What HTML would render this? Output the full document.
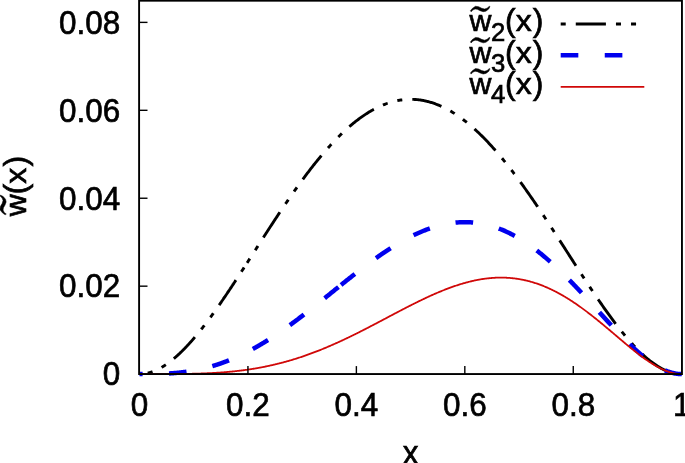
<!DOCTYPE html>
<html><head><meta charset="utf-8"><style>
html,body{margin:0;padding:0;background:#fff;}
body{width:685px;height:463px;overflow:hidden;position:relative;}
svg{position:absolute;left:0;top:0;will-change:transform;}
text{font-family:"Liberation Sans",sans-serif;fill:#000;stroke:#000;stroke-width:0.7;}
</style></head><body>
<svg width="685" height="463" viewBox="0 0 685 463">
<path d="M139.50,374.10 L139.68,374.10 L139.85,374.10 L140.03,374.10 L140.21,374.09 L140.39,374.09 L140.56,374.08 L140.74,374.08 L140.92,374.07 L141.10,374.06 L141.27,374.05 L141.45,374.04 L141.63,374.03 L141.80,374.02 L141.98,374.01 L142.16,374.00 L142.34,373.98 L142.51,373.97 L142.69,373.95 L142.87,373.93 L143.05,373.91 L143.22,373.90 L143.40,373.88 L143.58,373.86 L143.75,373.83 L143.93,373.81 L144.11,373.79 L144.29,373.76 L144.46,373.74 L144.64,373.71 L144.82,373.69 L145.00,373.66 L145.17,373.63 L145.35,373.60 L145.53,373.57 L145.70,373.54 L145.88,373.51 L146.06,373.47 L146.24,373.44 L146.41,373.40 L146.59,373.37 L146.77,373.33 L146.95,373.29 L147.12,373.26 L147.30,373.22 L147.48,373.18 L147.65,373.14 L147.83,373.09 L148.01,373.05 L148.19,373.01 L148.36,372.96 L148.54,372.92 L148.72,372.87 L148.90,372.83 L149.07,372.78 L149.25,372.73 L149.43,372.68 L149.60,372.63 L149.78,372.58 L149.96,372.53 L150.14,372.47 L150.31,372.42 L150.49,372.37 L150.67,372.31 L150.85,372.25 L151.02,372.20 L151.20,372.14 L151.38,372.08 L151.55,372.02 L151.73,371.96 L151.91,371.90 L152.09,371.84 L152.26,371.78 L152.44,371.71 L152.62,371.65 L152.80,371.58 L152.97,371.52 L153.15,371.45 L153.33,371.38 L153.50,371.32 L153.68,371.25 L153.86,371.18 L154.04,371.11 L154.21,371.04 L154.39,370.96 L154.57,370.89 L154.75,370.82 L154.92,370.74 L155.10,370.67 L155.28,370.59 L155.46,370.51 L155.63,370.44 L155.81,370.36 L155.99,370.28 L156.16,370.20 L156.34,370.12 L156.52,370.04 L156.70,369.95 L156.87,369.87 L157.05,369.79 L157.23,369.70 L157.41,369.62 L157.58,369.53 L157.76,369.44 L157.94,369.36 L158.11,369.27 L158.29,369.18 L158.47,369.09 L158.65,369.00 L158.82,368.91 L159.00,368.81 L159.18,368.72 L159.36,368.63 L159.53,368.53 L159.71,368.44 L159.89,368.34 L160.06,368.25 L160.24,368.15 L160.42,368.05 L160.60,367.95 L160.77,367.85 L160.95,367.75 L161.13,367.65 L161.31,367.55 L161.48,367.45 L161.66,367.34 L161.84,367.24 L162.01,367.14 L162.19,367.03 L162.37,366.92 L162.55,366.82 L162.72,366.71 L162.90,366.60 L163.08,366.49 L163.26,366.38 L163.43,366.27 L163.61,366.16 L163.79,366.05 L163.96,365.94 L164.14,365.83 L164.32,365.71 L164.50,365.60 L164.67,365.48 L164.85,365.37 L165.03,365.25 L165.21,365.13 L165.38,365.02 L165.56,364.90 L165.74,364.78 L165.91,364.66 L166.09,364.54 L166.27,364.42 L166.45,364.29 L166.62,364.17 L166.80,364.05 L166.98,363.92 L167.16,363.80 L167.33,363.67 L167.51,363.55 L167.69,363.42 L167.86,363.29 L168.04,363.17 L168.22,363.04 L168.40,362.91 L168.57,362.78 L168.75,362.65 L168.93,362.52 L169.11,362.38 L169.28,362.25 L169.46,362.12 L169.64,361.99 L169.81,361.85 L169.99,361.72 L170.17,361.58 L170.35,361.44 L170.52,361.31 L170.70,361.17 L170.88,361.03 L171.06,360.89 L171.23,360.75 L171.41,360.61 L171.59,360.47 L171.76,360.33 L171.94,360.19 L172.12,360.04 L172.30,359.90 L172.47,359.76 L172.65,359.61 L172.83,359.47 L173.01,359.32 L173.18,359.18 L173.36,359.03 L173.54,358.88 L173.71,358.73 L173.89,358.58 L174.07,358.43 L174.25,358.28 L174.42,358.13 L174.60,357.98 L174.78,357.83 L174.96,357.68 L175.13,357.53 L175.31,357.37 L175.49,357.22 L175.66,357.06 L175.84,356.91 L176.02,356.75 L176.20,356.59 L176.37,356.44 L176.55,356.28 L176.73,356.12 L176.91,355.96 L177.08,355.80 L177.26,355.64 L177.44,355.48 L177.61,355.32 L177.79,355.16 L177.97,355.00 L178.15,354.83 L178.32,354.67 L178.50,354.51 L178.68,354.34 L178.86,354.18 L179.03,354.01 L179.21,353.85 L179.39,353.68 L179.56,353.51 L179.74,353.34 L179.92,353.17 L180.10,353.01 L180.27,352.84 L180.45,352.67 L180.63,352.50 L180.81,352.32 L180.98,352.15 L181.16,351.98 L181.34,351.81 L181.51,351.63 L181.69,351.46 L181.87,351.29 L182.05,351.11 L182.22,350.93 L182.40,350.76 L182.58,350.58 L182.76,350.40 L182.93,350.23 L183.11,350.05 L183.29,349.87 L183.46,349.69 L183.64,349.51 L183.82,349.33 L184.00,349.15 L184.17,348.97 L184.35,348.79 L184.53,348.60 L184.71,348.42 L184.88,348.24 L185.06,348.05 L185.24,347.87 L185.41,347.69 L185.59,347.50 L185.77,347.31 L185.95,347.13 L186.12,346.94 L186.30,346.75 L186.48,346.57 L186.66,346.38 L186.83,346.19 L187.01,346.00 L187.19,345.81 L187.37,345.62 L187.54,345.43 L187.72,345.24 L187.90,345.05 L188.07,344.85 L188.25,344.66 L188.43,344.47 L188.61,344.27 L188.78,344.08 L188.96,343.89 L189.14,343.69 L189.32,343.49 L189.49,343.30 L189.67,343.10 L189.85,342.90 L190.02,342.71 L190.20,342.51 L190.38,342.31 L190.56,342.11 L190.73,341.91 L190.91,341.71 L191.09,341.51 L191.27,341.31 L191.44,341.11 L191.62,340.91 L191.80,340.71 L191.97,340.51 L192.15,340.30 L192.33,340.10 L192.51,339.90 L192.68,339.69 L192.86,339.49 L193.04,339.28 L193.22,339.08 L193.39,338.87 L193.57,338.66 L193.75,338.46 L193.92,338.25 L194.10,338.04 L194.28,337.83 L194.46,337.63 L194.63,337.42 L194.81,337.21 L194.99,337.00 L195.17,336.79 L195.34,336.58 L195.52,336.36 L195.70,336.15 L195.87,335.94 L196.05,335.73 L196.23,335.52 L196.41,335.30 L196.58,335.09 L196.76,334.88 L196.94,334.66 L197.12,334.45 L197.29,334.23 L197.47,334.02 L197.65,333.80 L197.82,333.58 L198.00,333.37 L198.18,333.15 L198.36,332.93 L198.53,332.71 L198.71,332.49 L198.89,332.28 L199.07,332.06 L199.24,331.84 L199.42,331.62 L199.60,331.40 L199.77,331.18 L199.95,330.96 L200.13,330.73 L200.31,330.51 L200.48,330.29 L200.66,330.07 L200.84,329.84 L201.02,329.62 L201.19,329.40 L201.37,329.17 L201.55,328.95 L201.72,328.72 L201.90,328.50 L202.08,328.27 L202.26,328.05 L202.43,327.82 L202.61,327.59 L202.79,327.37 L202.97,327.14 L203.14,326.91 L203.32,326.68 L203.50,326.46 L203.67,326.23 L203.85,326.00 L204.03,325.77 L204.21,325.54 L204.38,325.31 L204.56,325.08 L204.74,324.85 L204.92,324.61 L205.09,324.38 L205.27,324.15 L205.45,323.92 L205.62,323.69 L205.80,323.45 L205.98,323.22 L206.16,322.99 L206.33,322.75 L206.51,322.52 L206.69,322.28 L206.87,322.05 L207.04,321.81 L207.22,321.58 L207.40,321.34 L207.57,321.11 L207.75,320.87 L207.93,320.63 L208.11,320.40 L208.28,320.16 L208.46,319.92 L208.64,319.68 L208.82,319.44 L208.99,319.20 L209.17,318.97 L209.35,318.73 L209.52,318.49 L209.70,318.25 L209.88,318.01 L210.06,317.77 L210.23,317.52 L210.41,317.28 L210.59,317.04 L210.77,316.80 L210.94,316.56 L211.12,316.32 L211.30,316.07 L211.47,315.83 L211.65,315.59 L211.83,315.34 L212.01,315.10 L212.18,314.86 L212.36,314.61 L212.54,314.37 L212.72,314.12 L212.89,313.88 L213.07,313.63 L213.25,313.38 L213.42,313.14 L213.60,312.89 L213.78,312.65 L213.96,312.40 L214.13,312.15 L214.31,311.90 L214.49,311.66 L214.67,311.41 L214.84,311.16 L215.02,310.91 L215.20,310.66 L215.37,310.41 L215.55,310.16 L215.73,309.92 L215.91,309.67 L216.08,309.42 L216.26,309.16 L216.44,308.91 L216.62,308.66 L216.79,308.41 L216.97,308.16 L217.15,307.91 L217.33,307.66 L217.50,307.41 L217.68,307.15 L217.86,306.90 L218.03,306.65 L218.21,306.39 L218.39,306.14 L218.57,305.89 L218.74,305.63 L218.92,305.38 L219.10,305.13 L219.28,304.87 L219.45,304.62 L219.63,304.36 L219.81,304.11 L219.98,303.85 L220.16,303.60 L220.34,303.34 L220.52,303.08 L220.69,302.83 L220.87,302.57 L221.05,302.31 L221.23,302.06 L221.40,301.80 L221.58,301.54 L221.76,301.28 L221.93,301.03 L222.11,300.77 L222.29,300.51 L222.47,300.25 L222.64,299.99 L222.82,299.73 L223.00,299.48 L223.18,299.22 L223.35,298.96 L223.53,298.70 L223.71,298.44 L223.88,298.18 L224.06,297.92 L224.24,297.66 L224.42,297.40 L224.59,297.13 L224.77,296.87 L224.95,296.61 L225.13,296.35 L225.30,296.09 L225.48,295.83 L225.66,295.57 L225.83,295.30 L226.01,295.04 L226.19,294.78 L226.37,294.52 L226.54,294.25 L226.72,293.99 L226.90,293.73 L227.08,293.46 L227.25,293.20 L227.43,292.93 L227.61,292.67 L227.78,292.41 L227.96,292.14 L228.14,291.88 L228.32,291.61 L228.49,291.35 L228.67,291.08 L228.85,290.82 L229.03,290.55 L229.20,290.29 L229.38,290.02 L229.56,289.76 L229.73,289.49 L229.91,289.22 L230.09,288.96 L230.27,288.69 L230.44,288.42 L230.62,288.16 L230.80,287.89 L230.98,287.62 L231.15,287.36 L231.33,287.09 L231.51,286.82 L231.68,286.55 L231.86,286.29 L232.04,286.02 L232.22,285.75 L232.39,285.48 L232.57,285.21 L232.75,284.94 L232.93,284.68 L233.10,284.41 L233.28,284.14 L233.46,283.87 L233.63,283.60 L233.81,283.33 L233.99,283.06 L234.17,282.79 L234.34,282.52 L234.52,282.25 L234.70,281.98 L234.88,281.71 L235.05,281.44 L235.23,281.17 L235.41,280.90 L235.58,280.63 L235.76,280.36 L235.94,280.09 L236.12,279.82 L236.29,279.55 L236.47,279.28 L236.65,279.00 L236.83,278.73 L237.00,278.46 L237.18,278.19 L237.36,277.92 L237.53,277.65 L237.71,277.37 L237.89,277.10 L238.07,276.83 L238.24,276.56 L238.42,276.29 L238.60,276.01 L238.78,275.74 L238.95,275.47 L239.13,275.20 L239.31,274.92 L239.48,274.65 L239.66,274.38 L239.84,274.10 L240.02,273.83 L240.19,273.56 L240.37,273.28 L240.55,273.01 L240.73,272.74 L240.90,272.46 L241.08,272.19 L241.26,271.92 L241.43,271.64 L241.61,271.37 L241.79,271.09 L241.97,270.82 L242.14,270.55 L242.32,270.27 L242.50,270.00 L242.68,269.72 L242.85,269.45 L243.03,269.17 L243.21,268.90 L243.38,268.63 L243.56,268.35 L243.74,268.08 L243.92,267.80 L244.09,267.53 L244.27,267.25 L244.45,266.98 L244.63,266.70 L244.80,266.43 L244.98,266.15 L245.16,265.88 L245.33,265.60 L245.51,265.33 L245.69,265.05" fill="none" stroke="#000" stroke-width="2.9" stroke-dasharray="5.024 10.047 5.024 10.047 30.141 10.047" stroke-dashoffset="62.03"/>
<path d="M245.69,265.05 L246.42,263.92 L247.15,262.79 L247.87,261.65 L248.60,260.52 L249.33,259.39 L250.06,258.25 L250.78,257.12 L251.51,255.98 L252.24,254.85 L252.97,253.71 L253.70,252.57 L254.42,251.44 L255.15,250.30 L255.88,249.17 L256.61,248.03 L257.34,246.90 L258.06,245.76 L258.79,244.63 L259.52,243.49 L260.25,242.36 L260.98,241.23 L261.70,240.09 L262.43,238.96 L263.16,237.83 L263.89,236.70 L264.61,235.57 L265.34,234.44 L266.07,233.32 L266.80,232.19 L267.53,231.07 L268.25,229.95 L268.98,228.82 L269.71,227.70 L270.44,226.58 L271.17,225.47 L271.89,224.35 L272.62,223.24 L273.35,222.13 L274.08,221.02 L274.81,219.91 L275.53,218.80 L276.26,217.70 L276.99,216.59 L277.72,215.49 L278.44,214.40 L279.17,213.30 L279.90,212.21 L280.63,211.12 L281.36,210.03 L282.08,208.94 L282.81,207.86 L283.54,206.78 L284.27,205.70 L285.00,204.63 L285.72,203.55 L286.45,202.48 L287.18,201.42 L287.91,200.35 L288.64,199.29 L289.36,198.24 L290.09,197.18 L290.82,196.13 L291.55,195.08 L292.27,194.04 L293.00,193.00 L293.73,191.96 L294.46,190.93 L295.19,189.90 L295.91,188.87 L296.64,187.85 L297.37,186.83 L298.10,185.81 L298.83,184.80 L299.55,183.79 L300.28,182.79 L301.01,181.79 L301.74,180.79 L302.47,179.80 L303.19,178.81 L303.92,177.83 L304.65,176.85 L305.38,175.87 L306.10,174.90 L306.83,173.94 L307.56,172.97 L308.29,172.02 L309.02,171.06 L309.74,170.12 L310.47,169.17 L311.20,168.23 L311.93,167.30 L312.66,166.37 L313.38,165.44 L314.11,164.53 L314.84,163.61 L315.57,162.70 L316.30,161.80 L317.02,160.90 L317.75,160.00 L318.48,159.11 L319.21,158.23 L319.94,157.35 L320.66,156.47 L321.39,155.61 L322.12,154.74 L322.85,153.88 L323.57,153.03 L324.30,152.18 L325.03,151.34 L325.76,150.51 L326.49,149.68 L327.21,148.85 L327.94,148.03 L328.67,147.22 L329.40,146.41 L330.13,145.61 L330.85,144.81 L331.58,144.02 L332.31,143.24 L333.04,142.46 L333.77,141.69 L334.49,140.92 L335.22,140.16 L335.95,139.41 L336.68,138.66 L337.40,137.92 L338.13,137.18 L338.86,136.45 L339.59,135.73 L340.32,135.02 L341.04,134.30 L341.77,133.60 L342.50,132.90 L343.23,132.21 L343.96,131.53 L344.68,130.85 L345.41,130.18 L346.14,129.51 L346.87,128.85 L347.60,128.20 L348.32,127.55 L349.05,126.92 L349.78,126.28 L350.51,125.66 L351.23,125.04 L351.96,124.43 L352.69,123.82 L353.42,123.22 L354.15,122.63 L354.87,122.05 L355.60,121.47 L356.33,120.90 L357.06,120.34 L357.79,119.78 L358.51,119.23 L359.24,118.69 L359.97,118.15 L360.70,117.62 L361.43,117.10 L362.15,116.59 L362.88,116.08 L363.61,115.58 L364.34,115.09 L365.06,114.60 L365.79,114.13 L366.52,113.66 L367.25,113.19 L367.98,112.74 L368.70,112.29 L369.43,111.85 L370.16,111.41 L370.89,110.98 L371.62,110.57 L372.34,110.15 L373.07,109.75 L373.80,109.35 L374.53,108.96 L375.26,108.58 L375.98,108.21 L376.71,107.84 L377.44,107.48 L378.17,107.13 L378.89,106.78 L379.62,106.45 L380.35,106.12 L381.08,105.80 L381.81,105.48 L382.53,105.18 L383.26,104.88 L383.99,104.59 L384.72,104.30 L385.45,104.03 L386.17,103.76 L386.90,103.50 L387.63,103.25 L388.36,103.01 L389.09,102.77 L389.81,102.54 L390.54,102.32 L391.27,102.11 L392.00,101.90 L392.72,101.70 L393.45,101.51 L394.18,101.33 L394.91,101.16 L395.64,100.99 L396.36,100.83 L397.09,100.68 L397.82,100.54 L398.55,100.40 L399.28,100.28 L400.00,100.16 L400.73,100.05 L401.46,99.94 L402.19,99.85 L402.92,99.76 L403.64,99.68 L404.37,99.61 L405.10,99.54 L405.83,99.49 L406.55,99.44 L407.28,99.40 L408.01,99.37 L408.74,99.34 L409.47,99.33 L410.19,99.32 L410.92,99.32 L411.65,99.33 L412.38,99.34 L413.11,99.37 L413.83,99.40 L414.56,99.44 L415.29,99.48 L416.02,99.54 L416.75,99.60 L417.47,99.67 L418.20,99.75 L418.93,99.84 L419.66,99.93 L420.38,100.03 L421.11,100.14 L421.84,100.26 L422.57,100.39 L423.30,100.52 L424.02,100.66 L424.75,100.81 L425.48,100.97 L426.21,101.14 L426.94,101.31 L427.66,101.49 L428.39,101.68 L429.12,101.88 L429.85,102.08 L430.58,102.29 L431.30,102.51 L432.03,102.74 L432.76,102.98 L433.49,103.22 L434.21,103.47 L434.94,103.73 L435.67,104.00 L436.40,104.27 L437.13,104.56 L437.85,104.85 L438.58,105.14 L439.31,105.45 L440.04,105.76 L440.77,106.08 L441.49,106.41 L442.22,106.74 L442.95,107.09 L443.68,107.44 L444.41,107.80 L445.13,108.16 L445.86,108.54 L446.59,108.92 L447.32,109.31 L448.04,109.70 L448.77,110.11 L449.50,110.52 L450.23,110.94 L450.96,111.36 L451.68,111.80 L452.41,112.24 L453.14,112.68 L453.87,113.14 L454.60,113.60 L455.32,114.07 L456.05,114.55 L456.78,115.03 L457.51,115.53 L458.24,116.02 L458.96,116.53 L459.69,117.04 L460.42,117.56 L461.15,118.09 L461.88,118.63 L462.60,119.17 L463.33,119.72 L464.06,120.27 L464.79,120.84 L465.51,121.41 L466.24,121.98 L466.97,122.57 L467.70,123.16 L468.43,123.75 L469.15,124.36 L469.88,124.97 L470.61,125.59 L471.34,126.21 L472.07,126.84 L472.79,127.48 L473.52,128.13 L474.25,128.78 L474.98,129.43 L475.71,130.10 L476.43,130.77 L477.16,131.45 L477.89,132.13 L478.62,132.82 L479.34,133.52 L480.07,134.22 L480.80,134.93 L481.53,135.65 L482.26,136.37 L482.98,137.10 L483.71,137.84 L484.44,138.58 L485.17,139.32 L485.90,140.08 L486.62,140.84 L487.35,141.60 L488.08,142.37 L488.81,143.15 L489.54,143.93 L490.26,144.72 L490.99,145.52 L491.72,146.32 L492.45,147.13 L493.17,147.94 L493.90,148.76 L494.63,149.58 L495.36,150.41 L496.09,151.25 L496.81,152.09 L497.54,152.93 L498.27,153.79 L499.00,154.64 L499.73,155.51 L500.45,156.37 L501.18,157.25 L501.91,158.13 L502.64,159.01 L503.37,159.90 L504.09,160.79 L504.82,161.69 L505.55,162.60 L506.28,163.51 L507.00,164.42 L507.73,165.34 L508.46,166.26 L509.19,167.19 L509.92,168.13 L510.64,169.06 L511.37,170.01 L512.10,170.95 L512.83,171.91 L513.56,172.86 L514.28,173.83 L515.01,174.79 L515.74,175.76 L516.47,176.74 L517.20,177.71 L517.92,178.70 L518.65,179.69 L519.38,180.68 L520.11,181.67 L520.83,182.67 L521.56,183.68 L522.29,184.68 L523.02,185.69 L523.75,186.71 L524.47,187.73 L525.20,188.75 L525.93,189.78 L526.66,190.81 L527.39,191.84 L528.11,192.88 L528.84,193.92 L529.57,194.96 L530.30,196.01 L531.03,197.06 L531.75,198.11 L532.48,199.17 L533.21,200.23 L533.94,201.29 L534.66,202.36 L535.39,203.43 L536.12,204.50 L536.85,205.58 L537.58,206.65 L538.30,207.74 L539.03,208.82 L539.76,209.90 L540.49,210.99 L541.22,212.08 L541.94,213.18 L542.67,214.27 L543.40,215.37 L544.13,216.47 L544.86,217.57 L545.58,218.67 L546.31,219.78 L547.04,220.89 L547.77,222.00 L548.49,223.11 L549.22,224.22 L549.95,225.34 L550.68,226.46 L551.41,227.57 L552.13,228.69 L552.86,229.82 L553.59,230.94 L554.32,232.06 L555.05,233.19 L555.77,234.32 L556.50,235.44 L557.23,236.57 L557.96,237.70 L558.69,238.83 L559.41,239.96 L560.14,241.10 L560.87,242.23 L561.60,243.36 L562.32,244.50 L563.05,245.63 L563.78,246.77 L564.51,247.90 L565.24,249.04 L565.96,250.17 L566.69,251.31 L567.42,252.44 L568.15,253.58 L568.88,254.72 L569.60,255.85 L570.33,256.99 L571.06,258.12 L571.79,259.26 L572.52,260.39 L573.24,261.52 L573.97,262.66 L574.70,263.79 L575.43,264.92 L576.15,266.05 L576.88,267.18 L577.61,268.31 L578.34,269.44 L579.07,270.56 L579.79,271.69 L580.52,272.81 L581.25,273.93 L581.98,275.05 L582.71,276.17 L583.43,277.29 L584.16,278.41 L584.89,279.52 L585.62,280.63 L586.35,281.74 L587.07,282.85 L587.80,283.96 L588.53,285.06 L589.26,286.16 L589.98,287.26 L590.71,288.36 L591.44,289.45 L592.17,290.54 L592.90,291.63 L593.62,292.72 L594.35,293.80 L595.08,294.88 L595.81,295.96 L596.54,297.03 L597.26,298.10 L597.99,299.17 L598.72,300.23 L599.45,301.29 L600.18,302.35 L600.90,303.40 L601.63,304.45 L602.36,305.49 L603.09,306.54 L603.81,307.57 L604.54,308.61 L605.27,309.63 L606.00,310.66 L606.73,311.68 L607.45,312.69 L608.18,313.70 L608.91,314.71 L609.64,315.71 L610.37,316.71 L611.09,317.70 L611.82,318.68 L612.55,319.67 L613.28,320.64 L614.01,321.61 L614.73,322.58 L615.46,323.54 L616.19,324.49 L616.92,325.44 L617.65,326.38 L618.37,327.32 L619.10,328.25 L619.83,329.17 L620.56,330.09 L621.28,331.00 L622.01,331.91 L622.74,332.80 L623.47,333.70 L624.20,334.58 L624.92,335.46 L625.65,336.33 L626.38,337.20 L627.11,338.05 L627.84,338.90 L628.56,339.75 L629.29,340.58 L630.02,341.41 L630.75,342.23 L631.48,343.04 L632.20,343.84 L632.93,344.64 L633.66,345.43 L634.39,346.21 L635.11,346.98 L635.84,347.75 L636.57,348.50 L637.30,349.25 L638.03,349.98 L638.75,350.71 L639.48,351.43 L640.21,352.15 L640.94,352.85 L641.67,353.54 L642.39,354.22 L643.12,354.90 L643.85,355.56 L644.58,356.22 L645.31,356.86 L646.03,357.50 L646.76,358.12 L647.49,358.74 L648.22,359.34 L648.94,359.93 L649.67,360.52 L650.40,361.09 L651.13,361.65 L651.86,362.21 L652.58,362.75 L653.31,363.28 L654.04,363.80 L654.77,364.30 L655.50,364.80 L656.22,365.28 L656.95,365.76 L657.68,366.22 L658.41,366.67 L659.14,367.11 L659.86,367.53 L660.59,367.94 L661.32,368.35 L662.05,368.73 L662.77,369.11 L663.50,369.47 L664.23,369.83 L664.96,370.16 L665.69,370.49 L666.41,370.80 L667.14,371.10 L667.87,371.38 L668.60,371.66 L669.33,371.91 L670.05,372.16 L670.78,372.39 L671.51,372.60 L672.24,372.81 L672.97,373.00 L673.69,373.17 L674.42,373.33 L675.15,373.47 L675.88,373.60 L676.60,373.72 L677.33,373.82 L678.06,373.90 L678.79,373.97 L679.52,374.03 L680.24,374.07 L680.97,374.09 L681.70,374.10" fill="none" stroke="#000" stroke-width="2.9" stroke-dasharray="5.024 10.047 5.024 10.047 30.141 10.047" stroke-dashoffset="67.73"/>
<path d="M139.50,374.10 L139.83,374.10 L140.17,374.10 L140.50,374.10 L140.84,374.10 L141.17,374.10 L141.51,374.10 L141.84,374.10 L142.17,374.10 L142.51,374.10 L142.84,374.10 L143.18,374.10 L143.51,374.10 L143.84,374.10 L144.18,374.10 L144.51,374.10 L144.85,374.10 L145.18,374.10 L145.52,374.09 L145.85,374.09 L146.18,374.09 L146.52,374.09 L146.85,374.09 L147.19,374.09 L147.52,374.09 L147.85,374.08 L148.19,374.08 L148.52,374.08 L148.86,374.08 L149.19,374.08 L149.53,374.07 L149.86,374.07 L150.19,374.07 L150.53,374.06 L150.86,374.06 L151.20,374.06 L151.53,374.05 L151.86,374.05 L152.20,374.05 L152.53,374.04 L152.87,374.04 L153.20,374.03 L153.54,374.03 L153.87,374.02 L154.20,374.02 L154.54,374.01 L154.87,374.01 L155.21,374.00 L155.54,373.99 L155.87,373.99 L156.21,373.98 L156.54,373.97 L156.88,373.96 L157.21,373.96 L157.55,373.95 L157.88,373.94 L158.21,373.93 L158.55,373.92 L158.88,373.91 L159.22,373.90 L159.55,373.89 L159.88,373.88 L160.22,373.87 L160.55,373.86 L160.89,373.85 L161.22,373.84 L161.56,373.83 L161.89,373.82 L162.22,373.80 L162.56,373.79 L162.89,373.78 L163.23,373.76 L163.56,373.75 L163.89,373.73 L164.23,373.72 L164.56,373.70 L164.90,373.69 L165.23,373.67 L165.57,373.66 L165.90,373.64 L166.23,373.62 L166.57,373.61 L166.90,373.59 L167.24,373.57 L167.57,373.55 L167.90,373.53 L168.24,373.51 L168.57,373.49 L168.91,373.47 L169.24,373.45 L169.58,373.43 L169.91,373.41 L170.24,373.39 L170.58,373.36 L170.91,373.34 L171.25,373.32 L171.58,373.29 L171.91,373.27 L172.25,373.24 L172.58,373.22 L172.92,373.19 L173.25,373.17 L173.59,373.14 L173.92,373.11 L174.25,373.09 L174.59,373.06 L174.92,373.03 L175.26,373.00 L175.59,372.97 L175.92,372.94 L176.26,372.91 L176.59,372.88 L176.93,372.85 L177.26,372.81 L177.60,372.78 L177.93,372.75 L178.26,372.71 L178.60,372.68 L178.93,372.65 L179.27,372.61 L179.60,372.57 L179.93,372.54 L180.27,372.50 L180.60,372.46 L180.94,372.43 L181.27,372.39 L181.61,372.35 L181.94,372.31 L182.27,372.27 L182.61,372.23 L182.94,372.19 L183.28,372.14 L183.61,372.10 L183.94,372.06 L184.28,372.02 L184.61,371.97 L184.95,371.93 L185.28,371.88 L185.62,371.84 L185.95,371.79 L186.28,371.74 L186.62,371.69 L186.95,371.65 L187.29,371.60 L187.62,371.55 L187.96,371.50 L188.29,371.45 L188.62,371.40 L188.96,371.34 L189.29,371.29 L189.63,371.24 L189.96,371.19 L190.29,371.13 L190.63,371.08 L190.96,371.02 L191.30,370.96 L191.63,370.91 L191.97,370.85 L192.30,370.79 L192.63,370.73 L192.97,370.67 L193.30,370.61 L193.64,370.55 L193.97,370.49 L194.30,370.43 L194.64,370.37 L194.97,370.31 L195.31,370.24 L195.64,370.18 L195.98,370.11 L196.31,370.05 L196.64,369.98 L196.98,369.91 L197.31,369.85 L197.65,369.78 L197.98,369.71 L198.31,369.64 L198.65,369.57 L198.98,369.50 L199.32,369.43 L199.65,369.36 L199.99,369.28 L200.32,369.21 L200.65,369.13 L200.99,369.06 L201.32,368.98 L201.66,368.91 L201.99,368.83 L202.32,368.75 L202.66,368.68 L202.99,368.60 L203.33,368.52 L203.66,368.44 L204.00,368.36 L204.33,368.27 L204.66,368.19 L205.00,368.11 L205.33,368.03 L205.67,367.94 L206.00,367.86 L206.33,367.77 L206.67,367.68 L207.00,367.60 L207.34,367.51 L207.67,367.42 L208.01,367.33 L208.34,367.24 L208.67,367.15 L209.01,367.06 L209.34,366.97 L209.68,366.88 L210.01,366.78 L210.34,366.69 L210.68,366.59 L211.01,366.50 L211.35,366.40 L211.68,366.31 L212.02,366.21 L212.35,366.11 L212.68,366.01 L213.02,365.91 L213.35,365.81 L213.69,365.71 L214.02,365.61 L214.35,365.51 L214.69,365.40 L215.02,365.30 L215.36,365.19 L215.69,365.09 L216.03,364.98 L216.36,364.88 L216.69,364.77 L217.03,364.66 L217.36,364.55 L217.70,364.44 L218.03,364.33 L218.36,364.22 L218.70,364.11 L219.03,364.00 L219.37,363.88 L219.70,363.77 L220.04,363.65 L220.37,363.54 L220.70,363.42 L221.04,363.31 L221.37,363.19 L221.71,363.07 L222.04,362.95 L222.37,362.83 L222.71,362.71 L223.04,362.59 L223.38,362.47 L223.71,362.35 L224.05,362.22 L224.38,362.10 L224.71,361.98 L225.05,361.85 L225.38,361.72 L225.72,361.60 L226.05,361.47 L226.38,361.34 L226.72,361.21 L227.05,361.08 L227.39,360.95 L227.72,360.82 L228.06,360.69 L228.39,360.56 L228.72,360.43 L229.06,360.29 L229.39,360.16 L229.73,360.02 L230.06,359.89 L230.40,359.75 L230.73,359.61 L231.06,359.47 L231.40,359.34 L231.73,359.20 L232.07,359.06 L232.40,358.91 L232.73,358.77 L233.07,358.63 L233.40,358.49 L233.74,358.34 L234.07,358.20 L234.41,358.05 L234.74,357.91 L235.07,357.76 L235.41,357.61 L235.74,357.47 L236.08,357.32 L236.41,357.17 L236.74,357.02 L237.08,356.87 L237.41,356.72 L237.75,356.56 L238.08,356.41 L238.42,356.26 L238.75,356.10 L239.08,355.95 L239.42,355.79 L239.75,355.64 L240.09,355.48 L240.42,355.32 L240.75,355.16 L241.09,355.00 L241.42,354.84 L241.76,354.68 L242.09,354.52 L242.43,354.36 L242.76,354.20 L243.09,354.03 L243.43,353.87 L243.76,353.71 L244.10,353.54 L244.43,353.37 L244.76,353.21 L245.10,353.04 L245.43,352.87 L245.77,352.70 L246.10,352.53 L246.44,352.36 L246.77,352.19 L247.10,352.02 L247.44,351.85 L247.77,351.68 L248.11,351.50 L248.44,351.33 L248.77,351.15 L249.11,350.98 L249.44,350.80 L249.78,350.63 L250.11,350.45 L250.45,350.27 L250.78,350.09 L251.11,349.91 L251.45,349.73 L251.78,349.55 L252.12,349.37 L252.45,349.19 L252.78,349.01 L253.12,348.82 L253.45,348.64 L253.79,348.45 L254.12,348.27 L254.46,348.08 L254.79,347.90 L255.12,347.71 L255.46,347.52 L255.79,347.33 L256.13,347.14 L256.46,346.95 L256.79,346.76 L257.13,346.57 L257.46,346.38 L257.80,346.19 L258.13,346.00 L258.47,345.80 L258.80,345.61 L259.13,345.41 L259.47,345.22 L259.80,345.02 L260.14,344.83 L260.47,344.63 L260.80,344.43 L261.14,344.23 L261.47,344.03 L261.81,343.83 L262.14,343.63 L262.48,343.43 L262.81,343.23 L263.14,343.03 L263.48,342.83 L263.81,342.62 L264.15,342.42 L264.48,342.22 L264.81,342.01 L265.15,341.81 L265.48,341.60 L265.82,341.39 L266.15,341.19 L266.49,340.98 L266.82,340.77 L267.15,340.56 L267.49,340.35 L267.82,340.14 L268.16,339.93 L268.49,339.72 L268.82,339.51 L269.16,339.29 L269.49,339.08 L269.83,338.87 L270.16,338.65 L270.50,338.44 L270.83,338.22 L271.16,338.01 L271.50,337.79 L271.83,337.57 L272.17,337.36 L272.50,337.14 L272.83,336.92 L273.17,336.70 L273.50,336.48 L273.84,336.26 L274.17,336.04 L274.51,335.82 L274.84,335.60 L275.17,335.38 L275.51,335.15 L275.84,334.93 L276.18,334.71 L276.51,334.48 L276.85,334.26 L277.18,334.03 L277.51,333.81 L277.85,333.58 L278.18,333.35 L278.52,333.13 L278.85,332.90 L279.18,332.67 L279.52,332.44 L279.85,332.21 L280.19,331.98 L280.52,331.75 L280.86,331.52 L281.19,331.29 L281.52,331.06 L281.86,330.83 L282.19,330.59 L282.53,330.36 L282.86,330.13 L283.19,329.89 L283.53,329.66 L283.86,329.42 L284.20,329.19 L284.53,328.95 L284.87,328.72 L285.20,328.48 L285.53,328.24 L285.87,328.00 L286.20,327.77 L286.54,327.53 L286.87,327.29 L287.20,327.05 L287.54,326.81 L287.87,326.57 L288.21,326.33 L288.54,326.09 L288.88,325.84 L289.21,325.60 L289.54,325.36 L289.88,325.12 L290.21,324.87 L290.55,324.63 L290.88,324.39 L291.21,324.14 L291.55,323.90 L291.88,323.65 L292.22,323.41 L292.55,323.16 L292.89,322.91 L293.22,322.67 L293.55,322.42 L293.89,322.17 L294.22,321.93 L294.56,321.68 L294.89,321.43 L295.22,321.18 L295.56,320.93 L295.89,320.68 L296.23,320.43 L296.56,320.18 L296.90,319.93 L297.23,319.68 L297.56,319.43 L297.90,319.17 L298.23,318.92 L298.57,318.67 L298.90,318.42 L299.23,318.16 L299.57,317.91 L299.90,317.66 L300.24,317.40 L300.57,317.15 L300.91,316.89 L301.24,316.64 L301.57,316.38 L301.91,316.13 L302.24,315.87 L302.58,315.62 L302.91,315.36 L303.24,315.10 L303.58,314.84 L303.91,314.59 L304.25,314.33 L304.58,314.07 L304.92,313.81 L305.25,313.55 L305.58,313.30 L305.92,313.04 L306.25,312.78 L306.59,312.52 L306.92,312.26 L307.25,312.00 L307.59,311.74 L307.92,311.48 L308.26,311.22 L308.59,310.95 L308.93,310.69 L309.26,310.43 L309.59,310.17 L309.93,309.91 L310.26,309.64 L310.60,309.38 L310.93,309.12 L311.26,308.86 L311.60,308.59 L311.93,308.33 L312.27,308.07 L312.60,307.80 L312.94,307.54 L313.27,307.27 L313.60,307.01 L313.94,306.75 L314.27,306.48 L314.61,306.22 L314.94,305.95 L315.27,305.69 L315.61,305.42 L315.94,305.15 L316.28,304.89 L316.61,304.62 L316.95,304.36 L317.28,304.09 L317.61,303.82 L317.95,303.56 L318.28,303.29 L318.62,303.02 L318.95,302.76 L319.28,302.49 L319.62,302.22 L319.95,301.95 L320.29,301.69 L320.62,301.42 L320.96,301.15 L321.29,300.88 L321.62,300.61 L321.96,300.35 L322.29,300.08 L322.63,299.81 L322.96,299.54 L323.30,299.27 L323.63,299.00 L323.96,298.74 L324.30,298.47 L324.63,298.20 L324.97,297.93 L325.30,297.66 L325.63,297.39 L325.97,297.12 L326.30,296.85 L326.64,296.58 L326.97,296.31 L327.31,296.04 L327.64,295.77 L327.97,295.50 L328.31,295.24 L328.64,294.97 L328.98,294.70 L329.31,294.43 L329.64,294.16 L329.98,293.89 L330.31,293.62 L330.65,293.35 L330.98,293.08 L331.32,292.81 L331.65,292.54 L331.98,292.27 L332.32,292.00 L332.65,291.73 L332.99,291.46 L333.32,291.19 L333.65,290.92 L333.99,290.65 L334.32,290.38 L334.66,290.11 L334.99,289.84 L335.33,289.57 L335.66,289.30 L335.99,289.03 L336.33,288.76 L336.66,288.49 L337.00,288.22 L337.33,287.95 L337.66,287.68 L338.00,287.41 L338.33,287.15 L338.67,286.88 L339.00,286.61 L339.34,286.34 L339.67,286.07" fill="none" stroke="#0000ee" stroke-width="4.5" stroke-dasharray="17.620 26.430" stroke-dashoffset="14.51"/>
<path d="M339.67,286.07 L340.24,285.61 L340.81,285.15 L341.38,284.69 L341.95,284.23 L342.52,283.78 L343.10,283.32 L343.67,282.86 L344.24,282.40 L344.81,281.95 L345.38,281.49 L345.95,281.03 L346.52,280.58 L347.09,280.12 L347.66,279.67 L348.23,279.22 L348.81,278.76 L349.38,278.31 L349.95,277.86 L350.52,277.41 L351.09,276.95 L351.66,276.50 L352.23,276.05 L352.80,275.60 L353.37,275.16 L353.94,274.71 L354.52,274.26 L355.09,273.81 L355.66,273.37 L356.23,272.92 L356.80,272.48 L357.37,272.03 L357.94,271.59 L358.51,271.15 L359.08,270.71 L359.65,270.27 L360.23,269.83 L360.80,269.39 L361.37,268.95 L361.94,268.52 L362.51,268.08 L363.08,267.65 L363.65,267.21 L364.22,266.78 L364.79,266.35 L365.36,265.92 L365.94,265.49 L366.51,265.06 L367.08,264.63 L367.65,264.21 L368.22,263.78 L368.79,263.36 L369.36,262.94 L369.93,262.52 L370.50,262.10 L371.07,261.68 L371.65,261.26 L372.22,260.84 L372.79,260.43 L373.36,260.01 L373.93,259.60 L374.50,259.19 L375.07,258.78 L375.64,258.37 L376.21,257.97 L376.78,257.56 L377.36,257.16 L377.93,256.75 L378.50,256.35 L379.07,255.95 L379.64,255.55 L380.21,255.16 L380.78,254.76 L381.35,254.37 L381.92,253.98 L382.49,253.59 L383.07,253.20 L383.64,252.81 L384.21,252.42 L384.78,252.04 L385.35,251.66 L385.92,251.28 L386.49,250.90 L387.06,250.52 L387.63,250.15 L388.20,249.77 L388.78,249.40 L389.35,249.03 L389.92,248.66 L390.49,248.30 L391.06,247.93 L391.63,247.57 L392.20,247.21 L392.77,246.85 L393.34,246.50 L393.91,246.14 L394.49,245.79 L395.06,245.44 L395.63,245.09 L396.20,244.74 L396.77,244.40 L397.34,244.05 L397.91,243.71 L398.48,243.37 L399.05,243.04 L399.62,242.70 L400.20,242.37 L400.77,242.04 L401.34,241.71 L401.91,241.39 L402.48,241.06 L403.05,240.74 L403.62,240.42 L404.19,240.11 L404.76,239.79 L405.33,239.48 L405.91,239.17 L406.48,238.86 L407.05,238.56 L407.62,238.25 L408.19,237.95 L408.76,237.65 L409.33,237.36 L409.90,237.06 L410.47,236.77 L411.04,236.48 L411.62,236.20 L412.19,235.91 L412.76,235.63 L413.33,235.35 L413.90,235.08 L414.47,234.80 L415.04,234.53 L415.61,234.26 L416.18,234.00 L416.75,233.73 L417.33,233.47 L417.90,233.22 L418.47,232.96 L419.04,232.71 L419.61,232.46 L420.18,232.21 L420.75,231.96 L421.32,231.72 L421.89,231.48 L422.46,231.25 L423.04,231.01 L423.61,230.78 L424.18,230.55 L424.75,230.33 L425.32,230.10 L425.89,229.88 L426.46,229.66 L427.03,229.45 L427.60,229.24 L428.17,229.03 L428.75,228.82 L429.32,228.62 L429.89,228.42 L430.46,228.22 L431.03,228.03 L431.60,227.84 L432.17,227.65 L432.74,227.46 L433.31,227.28 L433.88,227.10 L434.46,226.93 L435.03,226.75 L435.60,226.58 L436.17,226.41 L436.74,226.25 L437.31,226.09 L437.88,225.93 L438.45,225.78 L439.02,225.62 L439.59,225.47 L440.17,225.33 L440.74,225.19 L441.31,225.05 L441.88,224.91 L442.45,224.78 L443.02,224.65 L443.59,224.52 L444.16,224.40 L444.73,224.28 L445.30,224.16 L445.88,224.05 L446.45,223.93 L447.02,223.83 L447.59,223.72 L448.16,223.62 L448.73,223.52 L449.30,223.43 L449.87,223.34 L450.44,223.25 L451.01,223.17 L451.59,223.09 L452.16,223.01 L452.73,222.93 L453.30,222.86 L453.87,222.79 L454.44,222.73 L455.01,222.67 L455.58,222.61 L456.15,222.56 L456.73,222.51 L457.30,222.46 L457.87,222.42 L458.44,222.37 L459.01,222.34 L459.58,222.30 L460.15,222.27 L460.72,222.25 L461.29,222.22 L461.86,222.20 L462.44,222.19 L463.01,222.17 L463.58,222.17 L464.15,222.16 L464.72,222.16 L465.29,222.16 L465.86,222.16 L466.43,222.17 L467.00,222.18 L467.57,222.20 L468.15,222.22 L468.72,222.24 L469.29,222.26 L469.86,222.29 L470.43,222.33 L471.00,222.36 L471.57,222.40 L472.14,222.45 L472.71,222.49 L473.28,222.55 L473.86,222.60 L474.43,222.66 L475.00,222.72 L475.57,222.79 L476.14,222.85 L476.71,222.93 L477.28,223.00 L477.85,223.08 L478.42,223.17 L478.99,223.25 L479.57,223.34 L480.14,223.44 L480.71,223.53 L481.28,223.64 L481.85,223.74 L482.42,223.85 L482.99,223.96 L483.56,224.08 L484.13,224.20 L484.70,224.32 L485.28,224.45 L485.85,224.58 L486.42,224.71 L486.99,224.85 L487.56,224.99 L488.13,225.14 L488.70,225.29 L489.27,225.44 L489.84,225.59 L490.41,225.75 L490.99,225.92 L491.56,226.08 L492.13,226.25 L492.70,226.43 L493.27,226.61 L493.84,226.79 L494.41,226.97 L494.98,227.16 L495.55,227.35 L496.12,227.55 L496.70,227.75 L497.27,227.95 L497.84,228.16 L498.41,228.37 L498.98,228.59 L499.55,228.80 L500.12,229.02 L500.69,229.25 L501.26,229.48 L501.83,229.71 L502.41,229.95 L502.98,230.19 L503.55,230.43 L504.12,230.68 L504.69,230.93 L505.26,231.18 L505.83,231.44 L506.40,231.70 L506.97,231.96 L507.54,232.23 L508.12,232.50 L508.69,232.78 L509.26,233.06 L509.83,233.34 L510.40,233.63 L510.97,233.92 L511.54,234.21 L512.11,234.51 L512.68,234.81 L513.25,235.11 L513.83,235.42 L514.40,235.73 L514.97,236.04 L515.54,236.36 L516.11,236.68 L516.68,237.00 L517.25,237.33 L517.82,237.66 L518.39,238.00 L518.96,238.33 L519.54,238.68 L520.11,239.02 L520.68,239.37 L521.25,239.72 L521.82,240.08 L522.39,240.44 L522.96,240.80 L523.53,241.16 L524.10,241.53 L524.67,241.90 L525.25,242.28 L525.82,242.66 L526.39,243.04 L526.96,243.42 L527.53,243.81 L528.10,244.20 L528.67,244.60 L529.24,245.00 L529.81,245.40 L530.38,245.80 L530.96,246.21 L531.53,246.62 L532.10,247.03 L532.67,247.45 L533.24,247.87 L533.81,248.29 L534.38,248.72 L534.95,249.15 L535.52,249.58 L536.09,250.02 L536.67,250.46 L537.24,250.90 L537.81,251.34 L538.38,251.79 L538.95,252.24 L539.52,252.70 L540.09,253.15 L540.66,253.61 L541.23,254.08 L541.80,254.54 L542.38,255.01 L542.95,255.48 L543.52,255.95 L544.09,256.43 L544.66,256.91 L545.23,257.39 L545.80,257.88 L546.37,258.37 L546.94,258.86 L547.51,259.35 L548.09,259.85 L548.66,260.35 L549.23,260.85 L549.80,261.35 L550.37,261.86 L550.94,262.37 L551.51,262.88 L552.08,263.39 L552.65,263.91 L553.22,264.43 L553.80,264.95 L554.37,265.48 L554.94,266.00 L555.51,266.53 L556.08,267.07 L556.65,267.60 L557.22,268.14 L557.79,268.67 L558.36,269.22 L558.93,269.76 L559.51,270.30 L560.08,270.85 L560.65,271.40 L561.22,271.95 L561.79,272.51 L562.36,273.07 L562.93,273.62 L563.50,274.18 L564.07,274.75 L564.64,275.31 L565.22,275.88 L565.79,276.45 L566.36,277.02 L566.93,277.59 L567.50,278.17 L568.07,278.74 L568.64,279.32 L569.21,279.90 L569.78,280.48 L570.35,281.06 L570.93,281.65 L571.50,282.24 L572.07,282.83 L572.64,283.42 L573.21,284.01 L573.78,284.60 L574.35,285.20 L574.92,285.79 L575.49,286.39 L576.06,286.99 L576.64,287.59 L577.21,288.19 L577.78,288.79 L578.35,289.40 L578.92,290.01 L579.49,290.61 L580.06,291.22 L580.63,291.83 L581.20,292.44 L581.77,293.05 L582.35,293.67 L582.92,294.28 L583.49,294.89 L584.06,295.51 L584.63,296.13 L585.20,296.74 L585.77,297.36 L586.34,297.98 L586.91,298.60 L587.48,299.22 L588.06,299.85 L588.63,300.47 L589.20,301.09 L589.77,301.71 L590.34,302.34 L590.91,302.96 L591.48,303.59 L592.05,304.21 L592.62,304.84 L593.19,305.47 L593.77,306.09 L594.34,306.72 L594.91,307.35 L595.48,307.97 L596.05,308.60 L596.62,309.23 L597.19,309.86 L597.76,310.48 L598.33,311.11 L598.90,311.74 L599.48,312.37 L600.05,312.99 L600.62,313.62 L601.19,314.25 L601.76,314.88 L602.33,315.50 L602.90,316.13 L603.47,316.75 L604.04,317.38 L604.61,318.00 L605.19,318.63 L605.76,319.25 L606.33,319.87 L606.90,320.50 L607.47,321.12 L608.04,321.74 L608.61,322.36 L609.18,322.98 L609.75,323.60 L610.32,324.21 L610.90,324.83 L611.47,325.44 L612.04,326.06 L612.61,326.67 L613.18,327.28 L613.75,327.89 L614.32,328.50 L614.89,329.11 L615.46,329.72 L616.03,330.32 L616.61,330.92 L617.18,331.53 L617.75,332.13 L618.32,332.72 L618.89,333.32 L619.46,333.92 L620.03,334.51 L620.60,335.10 L621.17,335.69 L621.74,336.28 L622.32,336.86 L622.89,337.44 L623.46,338.02 L624.03,338.60 L624.60,339.18 L625.17,339.75 L625.74,340.33 L626.31,340.89 L626.88,341.46 L627.45,342.02 L628.03,342.59 L628.60,343.14 L629.17,343.70 L629.74,344.25 L630.31,344.80 L630.88,345.35 L631.45,345.90 L632.02,346.44 L632.59,346.97 L633.16,347.51 L633.74,348.04 L634.31,348.57 L634.88,349.10 L635.45,349.62 L636.02,350.14 L636.59,350.65 L637.16,351.16 L637.73,351.67 L638.30,352.17 L638.87,352.67 L639.45,353.17 L640.02,353.66 L640.59,354.15 L641.16,354.63 L641.73,355.11 L642.30,355.59 L642.87,356.06 L643.44,356.53 L644.01,356.99 L644.58,357.45 L645.16,357.90 L645.73,358.35 L646.30,358.79 L646.87,359.23 L647.44,359.67 L648.01,360.10 L648.58,360.52 L649.15,360.94 L649.72,361.36 L650.29,361.77 L650.87,362.17 L651.44,362.57 L652.01,362.96 L652.58,363.35 L653.15,363.74 L653.72,364.11 L654.29,364.48 L654.86,364.85 L655.43,365.21 L656.00,365.56 L656.58,365.91 L657.15,366.25 L657.72,366.59 L658.29,366.92 L658.86,367.24 L659.43,367.56 L660.00,367.87 L660.57,368.18 L661.14,368.47 L661.71,368.76 L662.29,369.05 L662.86,369.32 L663.43,369.59 L664.00,369.86 L664.57,370.11 L665.14,370.36 L665.71,370.61 L666.28,370.84 L666.85,371.07 L667.42,371.29 L668.00,371.50 L668.57,371.70 L669.14,371.90 L669.71,372.09 L670.28,372.27 L670.85,372.44 L671.42,372.61 L671.99,372.77 L672.56,372.91 L673.13,373.05 L673.71,373.19 L674.28,373.31 L674.85,373.42 L675.42,373.53 L675.99,373.63 L676.56,373.72 L677.13,373.80 L677.70,373.87 L678.27,373.93 L678.84,373.98 L679.42,374.02 L679.99,374.06 L680.56,374.08 L681.13,374.10 L681.70,374.10" fill="none" stroke="#0000ee" stroke-width="4.5" stroke-dasharray="17.620 26.430" stroke-dashoffset="42.25"/>
<path d="M139.50,374.10 L140.18,374.10 L140.86,374.10 L141.54,374.10 L142.21,374.10 L142.89,374.10 L143.57,374.10 L144.25,374.10 L144.93,374.10 L145.61,374.10 L146.29,374.10 L146.96,374.10 L147.64,374.10 L148.32,374.10 L149.00,374.10 L149.68,374.10 L150.36,374.10 L151.04,374.10 L151.71,374.10 L152.39,374.10 L153.07,374.10 L153.75,374.10 L154.43,374.10 L155.11,374.10 L155.79,374.10 L156.46,374.10 L157.14,374.10 L157.82,374.09 L158.50,374.09 L159.18,374.09 L159.86,374.09 L160.54,374.09 L161.22,374.09 L161.89,374.09 L162.57,374.09 L163.25,374.09 L163.93,374.08 L164.61,374.08 L165.29,374.08 L165.97,374.08 L166.64,374.08 L167.32,374.07 L168.00,374.07 L168.68,374.07 L169.36,374.06 L170.04,374.06 L170.72,374.06 L171.39,374.05 L172.07,374.05 L172.75,374.05 L173.43,374.04 L174.11,374.04 L174.79,374.03 L175.47,374.03 L176.14,374.02 L176.82,374.01 L177.50,374.01 L178.18,374.00 L178.86,374.00 L179.54,373.99 L180.22,373.98 L180.89,373.97 L181.57,373.96 L182.25,373.96 L182.93,373.95 L183.61,373.94 L184.29,373.93 L184.97,373.92 L185.64,373.91 L186.32,373.90 L187.00,373.88 L187.68,373.87 L188.36,373.86 L189.04,373.85 L189.72,373.83 L190.39,373.82 L191.07,373.81 L191.75,373.79 L192.43,373.77 L193.11,373.76 L193.79,373.74 L194.47,373.73 L195.15,373.71 L195.82,373.69 L196.50,373.67 L197.18,373.65 L197.86,373.63 L198.54,373.61 L199.22,373.59 L199.90,373.57 L200.57,373.54 L201.25,373.52 L201.93,373.49 L202.61,373.47 L203.29,373.44 L203.97,373.42 L204.65,373.39 L205.32,373.36 L206.00,373.33 L206.68,373.30 L207.36,373.27 L208.04,373.24 L208.72,373.21 L209.40,373.18 L210.07,373.15 L210.75,373.11 L211.43,373.08 L212.11,373.04 L212.79,373.00 L213.47,372.96 L214.15,372.93 L214.82,372.89 L215.50,372.85 L216.18,372.80 L216.86,372.76 L217.54,372.72 L218.22,372.67 L218.90,372.63 L219.57,372.58 L220.25,372.53 L220.93,372.48 L221.61,372.43 L222.29,372.38 L222.97,372.33 L223.65,372.28 L224.32,372.23 L225.00,372.17 L225.68,372.11 L226.36,372.06 L227.04,372.00 L227.72,371.94 L228.40,371.88 L229.07,371.82 L229.75,371.75 L230.43,371.69 L231.11,371.63 L231.79,371.56 L232.47,371.49 L233.15,371.42 L233.83,371.35 L234.50,371.28 L235.18,371.21 L235.86,371.13 L236.54,371.06 L237.22,370.98 L237.90,370.91 L238.58,370.83 L239.25,370.75 L239.93,370.66 L240.61,370.58 L241.29,370.50 L241.97,370.41 L242.65,370.32 L243.33,370.24 L244.00,370.15 L244.68,370.05 L245.36,369.96 L246.04,369.87 L246.72,369.77 L247.40,369.68 L248.08,369.58 L248.75,369.48 L249.43,369.38 L250.11,369.28 L250.79,369.17 L251.47,369.07 L252.15,368.96 L252.83,368.85 L253.50,368.74 L254.18,368.63 L254.86,368.52 L255.54,368.40 L256.22,368.29 L256.90,368.17 L257.58,368.05 L258.25,367.93 L258.93,367.81 L259.61,367.68 L260.29,367.56 L260.97,367.43 L261.65,367.30 L262.33,367.17 L263.00,367.04 L263.68,366.91 L264.36,366.77 L265.04,366.64 L265.72,366.50 L266.40,366.36 L267.08,366.22 L267.76,366.08 L268.43,365.93 L269.11,365.79 L269.79,365.64 L270.47,365.49 L271.15,365.34 L271.83,365.19 L272.51,365.03 L273.18,364.88 L273.86,364.72 L274.54,364.56 L275.22,364.40 L275.90,364.24 L276.58,364.07 L277.26,363.91 L277.93,363.74 L278.61,363.57 L279.29,363.40 L279.97,363.23 L280.65,363.05 L281.33,362.88 L282.01,362.70 L282.68,362.52 L283.36,362.34 L284.04,362.16 L284.72,361.97 L285.40,361.79 L286.08,361.60 L286.76,361.41 L287.43,361.22 L288.11,361.02 L288.79,360.83 L289.47,360.63 L290.15,360.44 L290.83,360.24 L291.51,360.03 L292.18,359.83 L292.86,359.63 L293.54,359.42 L294.22,359.21 L294.90,359.00 L295.58,358.79 L296.26,358.58 L296.93,358.36 L297.61,358.15 L298.29,357.93 L298.97,357.71 L299.65,357.49 L300.33,357.26 L301.01,357.04 L301.68,356.81 L302.36,356.58 L303.04,356.35 L303.72,356.12 L304.40,355.89 L305.08,355.65 L305.76,355.41 L306.44,355.18 L307.11,354.94 L307.79,354.69 L308.47,354.45 L309.15,354.21 L309.83,353.96 L310.51,353.71 L311.19,353.46 L311.86,353.21 L312.54,352.96 L313.22,352.70 L313.90,352.45 L314.58,352.19 L315.26,351.93 L315.94,351.67 L316.61,351.40 L317.29,351.14 L317.97,350.87 L318.65,350.61 L319.33,350.34 L320.01,350.07 L320.69,349.80 L321.36,349.52 L322.04,349.25 L322.72,348.97 L323.40,348.69 L324.08,348.41 L324.76,348.13 L325.44,347.85 L326.11,347.56 L326.79,347.28 L327.47,346.99 L328.15,346.70 L328.83,346.41 L329.51,346.12 L330.19,345.83 L330.86,345.54 L331.54,345.24 L332.22,344.94 L332.90,344.65 L333.58,344.35 L334.26,344.05 L334.94,343.74 L335.61,343.44 L336.29,343.14 L336.97,342.83 L337.65,342.52 L338.33,342.21 L339.01,341.90 L339.69,341.59 L340.37,341.28 L341.04,340.97 L341.72,340.65 L342.40,340.34 L343.08,340.02 L343.76,339.70 L344.44,339.38 L345.12,339.06 L345.79,338.74 L346.47,338.42 L347.15,338.09 L347.83,337.77 L348.51,337.44 L349.19,337.11 L349.87,336.78 L350.54,336.45 L351.22,336.12 L351.90,335.79 L352.58,335.46 L353.26,335.13 L353.94,334.79 L354.62,334.46 L355.29,334.12 L355.97,333.78 L356.65,333.45 L357.33,333.11 L358.01,332.77 L358.69,332.43 L359.37,332.09 L360.04,331.74 L360.72,331.40 L361.40,331.06 L362.08,330.71 L362.76,330.37 L363.44,330.02 L364.12,329.67 L364.79,329.33 L365.47,328.98 L366.15,328.63 L366.83,328.28 L367.51,327.93 L368.19,327.58 L368.87,327.23 L369.54,326.88 L370.22,326.53 L370.90,326.17 L371.58,325.82 L372.26,325.47 L372.94,325.11 L373.62,324.76 L374.29,324.40 L374.97,324.05 L375.65,323.69 L376.33,323.34 L377.01,322.98 L377.69,322.62 L378.37,322.27 L379.05,321.91 L379.72,321.55 L380.40,321.19 L381.08,320.84 L381.76,320.48 L382.44,320.12 L383.12,319.76 L383.80,319.40 L384.47,319.04 L385.15,318.69 L385.83,318.33 L386.51,317.97 L387.19,317.61 L387.87,317.25 L388.55,316.89 L389.22,316.53 L389.90,316.17 L390.58,315.82 L391.26,315.46 L391.94,315.10 L392.62,314.74 L393.30,314.38 L393.97,314.03 L394.65,313.67 L395.33,313.31 L396.01,312.96 L396.69,312.60 L397.37,312.24 L398.05,311.89 L398.72,311.53 L399.40,311.18 L400.08,310.82 L400.76,310.47 L401.44,310.12 L402.12,309.76 L402.80,309.41 L403.47,309.06 L404.15,308.71 L404.83,308.36 L405.51,308.01 L406.19,307.66 L406.87,307.31 L407.55,306.96 L408.22,306.61 L408.90,306.27 L409.58,305.92 L410.26,305.58 L410.94,305.23 L411.62,304.89 L412.30,304.55 L412.98,304.21 L413.65,303.87 L414.33,303.53 L415.01,303.19 L415.69,302.85 L416.37,302.52 L417.05,302.18 L417.73,301.85 L418.40,301.51 L419.08,301.18 L419.76,300.85 L420.44,300.52 L421.12,300.19 L421.80,299.87 L422.48,299.54 L423.15,299.22 L423.83,298.89 L424.51,298.57 L425.19,298.25 L425.87,297.93 L426.55,297.62 L427.23,297.30 L427.90,296.99 L428.58,296.67 L429.26,296.36 L429.94,296.05 L430.62,295.75 L431.30,295.44 L431.98,295.14 L432.65,294.83 L433.33,294.53 L434.01,294.23 L434.69,293.93 L435.37,293.64 L436.05,293.35 L436.73,293.05 L437.40,292.76 L438.08,292.47 L438.76,292.19 L439.44,291.90 L440.12,291.62 L440.80,291.34 L441.48,291.06 L442.15,290.79 L442.83,290.51 L443.51,290.24 L444.19,289.97 L444.87,289.70 L445.55,289.44 L446.23,289.17 L446.91,288.91 L447.58,288.65 L448.26,288.40 L448.94,288.14 L449.62,287.89 L450.30,287.64 L450.98,287.40 L451.66,287.15 L452.33,286.91 L453.01,286.67 L453.69,286.43 L454.37,286.20 L455.05,285.97 L455.73,285.74 L456.41,285.51 L457.08,285.29 L457.76,285.07 L458.44,284.85 L459.12,284.63 L459.80,284.42 L460.48,284.21 L461.16,284.00 L461.83,283.80 L462.51,283.60 L463.19,283.40 L463.87,283.20 L464.55,283.01 L465.23,282.82 L465.91,282.63 L466.58,282.45 L467.26,282.27 L467.94,282.09 L468.62,281.92 L469.30,281.75 L469.98,281.58 L470.66,281.41 L471.33,281.25 L472.01,281.09 L472.69,280.93 L473.37,280.78 L474.05,280.63 L474.73,280.49 L475.41,280.35 L476.08,280.21 L476.76,280.07 L477.44,279.94 L478.12,279.81 L478.80,279.68 L479.48,279.56 L480.16,279.44 L480.83,279.33 L481.51,279.22 L482.19,279.11 L482.87,279.00 L483.55,278.90 L484.23,278.81 L484.91,278.71 L485.59,278.62 L486.26,278.54 L486.94,278.45 L487.62,278.37 L488.30,278.30 L488.98,278.23 L489.66,278.16 L490.34,278.10 L491.01,278.04 L491.69,277.98 L492.37,277.93 L493.05,277.88 L493.73,277.84 L494.41,277.79 L495.09,277.76 L495.76,277.72 L496.44,277.70 L497.12,277.67 L497.80,277.65 L498.48,277.63 L499.16,277.62 L499.84,277.61 L500.51,277.61 L501.19,277.61 L501.87,277.61 L502.55,277.62 L503.23,277.63 L503.91,277.64 L504.59,277.66 L505.26,277.69 L505.94,277.72 L506.62,277.75 L507.30,277.79 L507.98,277.83 L508.66,277.87 L509.34,277.92 L510.01,277.97 L510.69,278.03 L511.37,278.09 L512.05,278.16 L512.73,278.23 L513.41,278.31 L514.09,278.39 L514.76,278.47 L515.44,278.56 L516.12,278.65 L516.80,278.75 L517.48,278.85 L518.16,278.95 L518.84,279.06 L519.52,279.18 L520.19,279.29 L520.87,279.42 L521.55,279.55 L522.23,279.68 L522.91,279.81 L523.59,279.95 L524.27,280.10 L524.94,280.25 L525.62,280.40 L526.30,280.56 L526.98,280.72 L527.66,280.89 L528.34,281.06 L529.02,281.24 L529.69,281.42 L530.37,281.60 L531.05,281.79 L531.73,281.99 L532.41,282.19 L533.09,282.39 L533.77,282.60 L534.44,282.81 L535.12,283.02 L535.80,283.24 L536.48,283.47 L537.16,283.70 L537.84,283.93 L538.52,284.17 L539.19,284.41 L539.87,284.66 L540.55,284.91 L541.23,285.17 L541.91,285.43 L542.59,285.69 L543.27,285.96 L543.94,286.24 L544.62,286.52 L545.30,286.80 L545.98,287.09 L546.66,287.38 L547.34,287.67 L548.02,287.97 L548.69,288.28 L549.37,288.58 L550.05,288.90 L550.73,289.21 L551.41,289.54 L552.09,289.86 L552.77,290.19 L553.44,290.53 L554.12,290.86 L554.80,291.21 L555.48,291.55 L556.16,291.91 L556.84,292.26 L557.52,292.62 L558.20,292.98 L558.87,293.35 L559.55,293.72 L560.23,294.10 L560.91,294.48 L561.59,294.86 L562.27,295.25 L562.95,295.64 L563.62,296.04 L564.30,296.44 L564.98,296.84 L565.66,297.25 L566.34,297.66 L567.02,298.07 L567.70,298.49 L568.37,298.92 L569.05,299.34 L569.73,299.77 L570.41,300.21 L571.09,300.64 L571.77,301.08 L572.45,301.53 L573.12,301.98 L573.80,302.43 L574.48,302.88 L575.16,303.34 L575.84,303.81 L576.52,304.27 L577.20,304.74 L577.87,305.21 L578.55,305.69 L579.23,306.17 L579.91,306.65 L580.59,307.13 L581.27,307.62 L581.95,308.11 L582.62,308.61 L583.30,309.11 L583.98,309.61 L584.66,310.11 L585.34,310.62 L586.02,311.12 L586.70,311.64 L587.37,312.15 L588.05,312.67 L588.73,313.19 L589.41,313.71 L590.09,314.24 L590.77,314.76 L591.45,315.29 L592.13,315.83 L592.80,316.36 L593.48,316.90 L594.16,317.44 L594.84,317.98 L595.52,318.52 L596.20,319.07 L596.88,319.61 L597.55,320.16 L598.23,320.71 L598.91,321.27 L599.59,321.82 L600.27,322.38 L600.95,322.94 L601.63,323.50 L602.30,324.06 L602.98,324.62 L603.66,325.18 L604.34,325.75 L605.02,326.32 L605.70,326.88 L606.38,327.45 L607.05,328.02 L607.73,328.59 L608.41,329.16 L609.09,329.74 L609.77,330.31 L610.45,330.88 L611.13,331.46 L611.80,332.03 L612.48,332.61 L613.16,333.18 L613.84,333.76 L614.52,334.34 L615.20,334.91 L615.88,335.49 L616.55,336.06 L617.23,336.64 L617.91,337.22 L618.59,337.79 L619.27,338.37 L619.95,338.94 L620.63,339.51 L621.30,340.09 L621.98,340.66 L622.66,341.23 L623.34,341.80 L624.02,342.37 L624.70,342.94 L625.38,343.51 L626.05,344.07 L626.73,344.64 L627.41,345.20 L628.09,345.76 L628.77,346.32 L629.45,346.88 L630.13,347.43 L630.81,347.98 L631.48,348.54 L632.16,349.08 L632.84,349.63 L633.52,350.17 L634.20,350.72 L634.88,351.25 L635.56,351.79 L636.23,352.32 L636.91,352.85 L637.59,353.38 L638.27,353.90 L638.95,354.42 L639.63,354.94 L640.31,355.45 L640.98,355.96 L641.66,356.46 L642.34,356.96 L643.02,357.46 L643.70,357.95 L644.38,358.44 L645.06,358.92 L645.73,359.40 L646.41,359.87 L647.09,360.34 L647.77,360.80 L648.45,361.26 L649.13,361.72 L649.81,362.16 L650.48,362.60 L651.16,363.04 L651.84,363.47 L652.52,363.89 L653.20,364.31 L653.88,364.72 L654.56,365.13 L655.23,365.53 L655.91,365.92 L656.59,366.30 L657.27,366.68 L657.95,367.05 L658.63,367.41 L659.31,367.76 L659.98,368.11 L660.66,368.45 L661.34,368.78 L662.02,369.10 L662.70,369.42 L663.38,369.72 L664.06,370.02 L664.74,370.31 L665.41,370.59 L666.09,370.86 L666.77,371.12 L667.45,371.37 L668.13,371.61 L668.81,371.84 L669.49,372.06 L670.16,372.27 L670.84,372.47 L671.52,372.66 L672.20,372.84 L672.88,373.01 L673.56,373.17 L674.24,373.31 L674.91,373.45 L675.59,373.57 L676.27,373.68 L676.95,373.77 L677.63,373.86 L678.31,373.93 L678.99,373.99 L679.66,374.04 L680.34,374.07 L681.02,374.09 L681.70,374.10" fill="none" stroke="#d00808" stroke-width="1.8"/>
<g stroke="#000" stroke-width="1.4" fill="none">
<line x1="139.5" y1="286.17" x2="147.5" y2="286.17"/>
<line x1="139.5" y1="198.24" x2="147.5" y2="198.24"/>
<line x1="139.5" y1="110.31" x2="147.5" y2="110.31"/>
<line x1="139.5" y1="22.38" x2="147.5" y2="22.38"/>
<line x1="247.94" y1="374.1" x2="247.94" y2="366.1"/>
<line x1="356.38" y1="374.1" x2="356.38" y2="366.1"/>
<line x1="464.82" y1="374.1" x2="464.82" y2="366.1"/>
<line x1="573.26" y1="374.1" x2="573.26" y2="366.1"/>
</g>
<rect x="139.1" y="0.7" width="542.85" height="373.35" fill="none" stroke="#000" stroke-width="1.9"/>
<text transform="translate(120.30,384.55) scale(0.925,1.0)" font-size="34.0" text-anchor="end" >0</text>
<text transform="translate(120.30,297.05) scale(0.925,1.0)" font-size="34.0" text-anchor="end" >0.02</text>
<text transform="translate(120.30,209.55) scale(0.925,1.0)" font-size="34.0" text-anchor="end" >0.04</text>
<text transform="translate(120.30,121.75) scale(0.925,1.0)" font-size="34.0" text-anchor="end" >0.06</text>
<text transform="translate(120.30,33.55) scale(0.925,1.0)" font-size="34.0" text-anchor="end" >0.08</text>
<text transform="translate(139.50,416.00) scale(0.925,1.0)" font-size="34.0" text-anchor="middle" >0</text>
<text transform="translate(247.94,416.00) scale(0.925,1.0)" font-size="34.0" text-anchor="middle" >0.2</text>
<text transform="translate(356.38,416.00) scale(0.925,1.0)" font-size="34.0" text-anchor="middle" >0.4</text>
<text transform="translate(464.82,416.00) scale(0.925,1.0)" font-size="34.0" text-anchor="middle" >0.6</text>
<text transform="translate(573.26,416.00) scale(0.925,1.0)" font-size="34.0" text-anchor="middle" >0.8</text>
<text transform="translate(681.70,416.00) scale(0.925,1.0)" font-size="34.0" text-anchor="middle" >1</text>
<text transform="translate(410.60,464.30) scale(0.925,1.0)" font-size="34.0" text-anchor="middle" >x</text>
<g transform="translate(25.5,0) rotate(-90)">
<text transform="translate(-216.20,0.00) scale(0.95,0.92)" font-size="32.0" text-anchor="start" >w</text>
<text transform="translate(-194.58,0.00) scale(1.0,1.0)" font-size="32.0" text-anchor="start" >(</text>
<text transform="translate(-183.76,0.00) scale(1.0,0.92)" font-size="32.0" text-anchor="start" >x</text>
<text transform="translate(-166.59,0.00) scale(1.0,1.0)" font-size="32.0" text-anchor="start" >)</text>
</g>
<g transform="translate(-0.2,214.8) rotate(-90)"><path d="M0.00,5.33 L1.95,2.60 L5.07,0.13 L8.19,0.52 L11.31,2.34 L14.23,3.25 L16.77,2.34 L18.52,0.52 L19.50,0.00 L19.50,0.91 L18.33,3.38 L15.60,5.72 L12.87,6.37 L9.75,5.20 L7.02,3.64 L4.68,3.25 L2.34,4.42 L0.78,6.50Z" fill="#000" stroke="#000" stroke-width="0.5" stroke-linejoin="round"/>
</g>
<path d="M470.40,10.79 L472.34,8.44 L475.44,6.31 L478.55,6.65 L481.65,8.22 L484.56,9.00 L487.08,8.22 L488.83,6.65 L489.80,6.20 L489.80,6.98 L488.64,9.11 L485.92,11.13 L483.20,11.69 L480.10,10.68 L477.38,9.34 L475.06,9.00 L472.73,10.01 L471.18,11.80Z" fill="#000" stroke="#000" stroke-width="0.5" stroke-linejoin="round"/>
<text transform="translate(469.60,31.40) scale(0.95,0.92)" font-size="32.0" text-anchor="start" >w</text>
<text transform="translate(491.00,41.10) scale(0.98,1.0)" font-size="26.2" text-anchor="start" >2</text>
<text transform="translate(505.02,31.40) scale(1.0,1.0)" font-size="32.0" text-anchor="start" >(</text>
<text transform="translate(515.84,31.40) scale(1.0,0.92)" font-size="32.0" text-anchor="start" >x</text>
<text transform="translate(532.81,31.40) scale(1.0,1.0)" font-size="32.0" text-anchor="start" >)</text>
<path d="M470.40,41.94 L472.34,39.59 L475.44,37.46 L478.55,37.80 L481.65,39.37 L484.56,40.15 L487.08,39.37 L488.83,37.80 L489.80,37.35 L489.80,38.13 L488.64,40.26 L485.92,42.28 L483.20,42.84 L480.10,41.83 L477.38,40.49 L475.06,40.15 L472.73,41.16 L471.18,42.95Z" fill="#000" stroke="#000" stroke-width="0.5" stroke-linejoin="round"/>
<text transform="translate(469.60,62.55) scale(0.95,0.92)" font-size="32.0" text-anchor="start" >w</text>
<text transform="translate(491.00,72.25) scale(0.98,1.0)" font-size="26.2" text-anchor="start" >3</text>
<text transform="translate(505.02,62.55) scale(1.0,1.0)" font-size="32.0" text-anchor="start" >(</text>
<text transform="translate(515.84,62.55) scale(1.0,0.92)" font-size="32.0" text-anchor="start" >x</text>
<text transform="translate(532.81,62.55) scale(1.0,1.0)" font-size="32.0" text-anchor="start" >)</text>
<path d="M470.40,73.09 L472.34,70.74 L475.44,68.61 L478.55,68.95 L481.65,70.52 L484.56,71.30 L487.08,70.52 L488.83,68.95 L489.80,68.50 L489.80,69.28 L488.64,71.41 L485.92,73.43 L483.20,73.99 L480.10,72.98 L477.38,71.64 L475.06,71.30 L472.73,72.31 L471.18,74.10Z" fill="#000" stroke="#000" stroke-width="0.5" stroke-linejoin="round"/>
<text transform="translate(469.60,93.70) scale(0.95,0.92)" font-size="32.0" text-anchor="start" >w</text>
<text transform="translate(491.00,103.40) scale(0.98,1.0)" font-size="26.2" text-anchor="start" >4</text>
<text transform="translate(505.02,93.70) scale(1.0,1.0)" font-size="32.0" text-anchor="start" >(</text>
<text transform="translate(515.84,93.70) scale(1.0,0.92)" font-size="32.0" text-anchor="start" >x</text>
<text transform="translate(532.81,93.70) scale(1.0,1.0)" font-size="32.0" text-anchor="start" >)</text>
<line x1="560.7" y1="24.0" x2="644.3" y2="24.0" stroke="#000" stroke-width="2.9" stroke-dasharray="5.024 10.047 5.024 10.047 30.141 10.047" stroke-dashoffset="15.07"/>
<line x1="560.7" y1="55.3" x2="644.3" y2="55.3" stroke="#0000ee" stroke-width="4.5" stroke-dasharray="17.620 26.430"/>
<line x1="560.7" y1="86.9" x2="644.3" y2="86.9" stroke="#d00808" stroke-width="1.8"/>
</svg>
</body></html>
